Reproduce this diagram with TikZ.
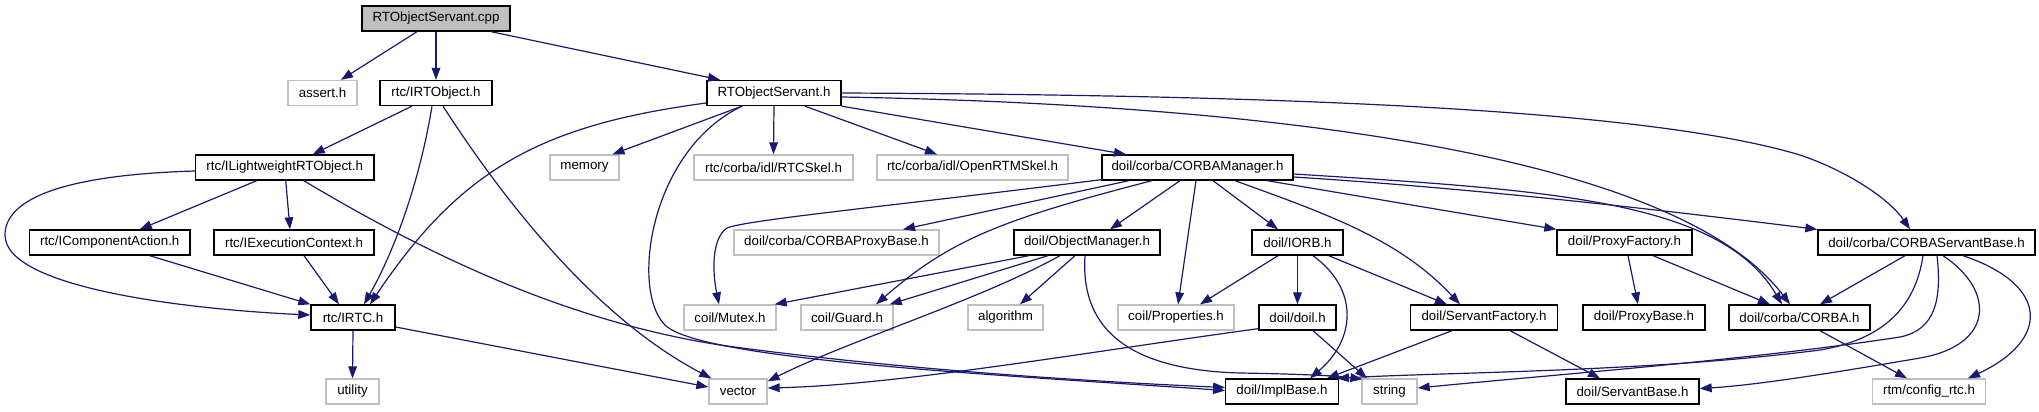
\documentclass[tikz,border=0pt]{standalone}
\usepackage{fontspec}
\setmainfont{Liberation Sans}
\usetikzlibrary{arrows.meta,calc}
\definecolor{edgec}{RGB}{25,25,112}
\definecolor{lgray}{RGB}{191,191,191}
\begin{document}
\begin{tikzpicture}[x=0.75pt,y=-0.75pt,
  nd/.style={rectangle, minimum height=18.75pt, inner sep=0pt, font=\fontsize{10pt}{12pt}\selectfont, line width=1pt},
  blk/.style={nd, draw=black},
  gry/.style={nd, draw=lgray},
  wd/.style={minimum width=#1*0.75pt},
  dep/.style={draw=edgec, line width=0.9pt, -{Triangle[length=9pt,width=6.5pt]}}]
\useasboundingbox (0,0) rectangle (2039,411);
% row 0
\node[blk, fill=lgray, wd=148] (cpp) at (436,18.5) {RTObjectServant.cpp};
% row 1
\node[gry, wd=69]  (assert) at (322.5,93) {assert.h};
\node[blk, wd=112] (irtobject) at (436,93) {rtc/IRTObject.h};
\node[blk, wd=134] (rtosh) at (774,93) {RTObjectServant.h};
% row 2
\node[blk, wd=178.5] (ilw) at (284.75,167.5) {rtc/ILightweightRTObject.h};
\node[gry, wd=69]  (memory) at (584.5,167.5) {memory};
\node[gry, wd=159] (rtcskel) at (773.5,167.5) {rtc/corba/idl/RTCSkel.h};
\node[gry, wd=191] (openrtm) at (972.5,167.5) {rtc/corba/idl/OpenRTMSkel.h};
\node[blk, wd=191] (cmgr) at (1197.5,167.5) {doil/corba/CORBAManager.h};
% row 3
\node[blk, wd=160.5] (icomp) at (109.75,242.5) {rtc/IComponentAction.h};
\node[blk, wd=160] (iexec) at (294,242.5) {rtc/IExecutionContext.h};
\node[gry, wd=205] (cproxyb) at (836.5,242.5) {doil/corba/CORBAProxyBase.h};
\node[blk, wd=146] (objmgr) at (1087,242.5) {doil/ObjectManager.h};
\node[blk, wd=91]  (iorb) at (1297.5,242.5) {doil/IORB.h};
\node[blk, wd=135] (pfact) at (1624.5,242.5) {doil/ProxyFactory.h};
\node[blk, wd=217] (csb) at (1926.5,242.5) {doil/corba/CORBAServantBase.h};
% row 4
\node[blk, wd=84]  (irtc) at (353,317.5) {rtc/IRTC.h};
\node[gry, wd=92]  (mutex) at (730,317.5) {coil/Mutex.h};
\node[gry, wd=92]  (guard) at (847,317.5) {coil/Guard.h};
\node[gry, wd=75]  (algorithm) at (1005.5,317.5) {algorithm};
\node[gry, wd=116] (props) at (1176,317.5) {coil/Properties.h};
\node[blk, wd=77]  (doil) at (1297.5,317.5) {doil/doil.h};
\node[blk, wd=147.5] (sfact) at (1484,317.5) {doil/ServantFactory.h};
\node[blk, wd=122] (pbase) at (1644,317.5) {doil/ProxyBase.h};
\node[blk, wd=141] (corba) at (1799.5,317.5) {doil/corba/CORBA.h};
% row 5
\node[gry, wd=53]  (utility) at (352.5,391.5) {utility};
\node[gry, wd=58]  (vector) at (738,391.5) {vector};
\node[blk, wd=112.5] (implbase) at (1282,391.5) {doil/ImplBase.h};
\node[gry, wd=55]  (string) at (1389.5,391.5) {string};
\node[blk, wd=133] (sbase) at (1632.5,391.5) {doil/ServantBase.h};
\node[gry, wd=113] (config) at (1929,391.5) {rtm/config\_rtc.h};

% edges from cpp
\draw[dep] ($(cpp.south)+(-19,0)$) -- ($(assert.north)+(18.5,0)$);
\draw[dep] (cpp.south) -- (irtobject.north);
\draw[dep] ($(cpp.south)+(55,0)$) -- ($(rtosh.north)+(-54,0)$);
% rtc/IRTObject.h
\draw[dep] ($(irtobject.south)+(-24,0)$) -- ($(ilw.north)+(28,0)$);
\draw[dep] ($(irtobject.south)+(-4,0)$) .. controls (420,180) and (395,250) .. ($(irtc.north)+(11,0)$);
\draw[dep] ($(irtobject.south)+(7,0)$) .. controls (510,210) and (600,320) .. ($(vector.north west)+(3,0)$);
% rtc/ILightweightRTObject.h
\draw[dep] ($(ilw.south)+(-28,0)$) -- ($(icomp.north)+(30,0)$);
\draw[dep] ($(ilw.south)+(1,0)$) -- ($(iexec.north)+(-4,0)$);
\draw[dep] ($(ilw.west)+(0,3.5)$) .. controls (60,175) and (5,200) .. (5,235) .. controls (5,290) and (200,310) .. ($(irtc.west)+(0,-2.5)$);
\draw[dep] ($(ilw.south)+(19,0)$) .. controls (420,250) and (560,320) .. (720,345) .. controls (900,370) and (1100,382) .. ($(implbase.west)+(0,-4)$);
% row 3 left
\draw[dep] ($(icomp.south)+(40,0)$) -- (irtc.north west);
\draw[dep] ($(iexec.south)+(10,0)$) -- ($(irtc.north)+(-14,0)$);
% rtc/IRTC.h
\draw[dep] (irtc.south) -- (utility.north);
\draw[dep] ($(irtc.east)+(0,9.5)$) -- ($(vector.west)+(0,-4.5)$);
% RTObjectServant.h
\draw[dep] ($(rtosh.west)+(0,10)$) .. controls (540,125) and (460,170) .. ($(irtc.north)+(17,0)$);
\draw[dep] ($(rtosh.south)+(-32,0)$) -- ($(memory.north)+(28,0)$);
\draw[dep] (rtosh.south) -- (rtcskel.north);
\draw[dep] ($(rtosh.south)+(31,0)$) -- ($(openrtm.north)+(-35.5,0)$);
\draw[dep] (rtosh.south east) -- ($(cmgr.north)+(-71.5,0)$);
\draw[dep] ($(rtosh.south)+(-32,0)$) .. controls (650,150) and (630,290) .. (665,325) .. controls (700,360) and (1000,375) .. ($(implbase.west)+(0,-1)$);
\draw[dep] ($(rtosh.east)+(0,4)$) .. controls (1300,105) and (1680,160) .. ($(corba.north)+(-9.5,0)$);
\draw[dep] (rtosh.east) .. controls (1300,95) and (1650,110) .. (1800,155) .. controls (1850,172) and (1890,200) .. ($(csb.north)+(-16.5,0)$);
% doil/corba/CORBAManager.h
\draw[dep] ($(cmgr.south west)+(0,-1)$) .. controls (900,205) and (745,220) .. (727,228) .. controls (712,238) and (712,270) .. ($(mutex.north)+(-11,0)$);
\draw[dep] ($(cmgr.south)+(-68.5,0)$) -- ($(cproxyb.north)+(66.5,0)$);
\draw[dep] ($(cmgr.south)+(-45.5,0)$) .. controls (1000,220) and (950,240) .. ($(guard.north)+(29,0)$);
\draw[dep] ($(cmgr.south)+(-17.5,0)$) -- ($(objmgr.north)+(23,0)$);
\draw[dep] ($(cmgr.south)+(-1.5,0)$) -- ($(props.north)+(2,0)$);
\draw[dep] ($(cmgr.south)+(15.5,0)$) -- ($(iorb.north)+(-19.5,0)$);
\draw[dep] ($(cmgr.south)+(37.5,0)$) .. controls (1330,215) and (1400,240) .. ($(sfact.north)+(-24,0)$);
\draw[dep] ($(cmgr.south)+(69.5,0)$) -- (pfact.north west);
\draw[dep] ($(cmgr.east)+(0,6.5)$) .. controls (1550,190) and (1720,200) .. ($(corba.north)+(-17.5,0)$);
\draw[dep] ($(cmgr.east)+(0,9.5)$) .. controls (1500,190) and (1700,215) .. (csb.north west);
% doil/ObjectManager.h
\draw[dep] ($(objmgr.south)+(-58,0)$) -- ($(mutex.north east)+(-2,0)$);
\draw[dep] ($(objmgr.south)+(-39,0)$) -- ($(guard.north east)+(-4,0)$);
\draw[dep] ($(objmgr.south)+(-27,0)$) .. controls (980,300) and (850,340) .. ($(vector.north east)+(0,3)$);
\draw[dep] ($(objmgr.south)+(-12,0)$) -- ($(algorithm.north)+(14.5,0)$);
\draw[dep] ($(objmgr.south)+(-2,0)$) .. controls (1080,330) and (1130,370) .. (1240,373) .. controls (1300,374) and (1340,376) .. ($(string.north west)+(1,1)$);
% doil/IORB.h
\draw[dep] ($(iorb.south)+(-19.5,0)$) -- ($(props.north)+(24,0)$);
\draw[dep] (iorb.south) -- (doil.north);
\draw[dep] ($(iorb.south)+(15.5,0)$) .. controls (1360,290) and (1355,340) .. ($(implbase.north)+(28,0)$);
\draw[dep] ($(iorb.south east)+(-15,0)$) -- ($(sfact.north)+(-37,0)$);
% doil/doil.h
\draw[dep] ($(doil.south west)+(0,-2)$) .. controls (1100,350) and (900,385) .. ($(vector.east)+(0,-3.5)$);
\draw[dep] ($(doil.south)+(15.5,0)$) -- ($(string.north)+(-22.5,0)$);
% doil/ServantFactory.h
\draw[dep] ($(sfact.south)+(-32,0)$) -- ($(implbase.north east)+(-12,0)$);
\draw[dep] ($(sfact.south)+(26,0)$) -- ($(sbase.north)+(-32.5,0)$);
% doil/ProxyFactory.h
\draw[dep] ($(pfact.south)+(3.5,0)$) -- ($(pbase.north)+(-6,0)$);
\draw[dep] ($(pfact.south)+(28.5,0)$) -- ($(corba.north)+(-29.5,0)$);
% doil/corba/CORBAServantBase.h
\draw[dep] ($(csb.south)+(-21.5,0)$) -- ($(corba.north)+(20.5,0)$);
\draw[dep] ($(csb.south)+(10.5,0)$) .. controls (1942,300) and (1935,330) .. (1900,337) .. controls (1750,360) and (1550,375) .. ($(string.east)+(0,-3.5)$);
\draw[dep] ($(csb.south)+(-3.5,0)$) .. controls (1915,310) and (1880,340) .. (1820,350) .. controls (1650,372) and (1450,372) .. ($(implbase.north east)+(-2,0)$);
\draw[dep] ($(csb.south)+(16.5,0)$) .. controls (1995,290) and (1995,345) .. (1920,358) .. controls (1850,370) and (1760,385) .. ($(sbase.east)+(0,-3)$);
\draw[dep] ($(csb.south)+(36.5,0)$) .. controls (2050,285) and (2050,340) .. ($(config.north)+(39,0)$);
% doil/corba/CORBA.h
\draw[dep] ($(corba.south)+(20.5,0)$) -- ($(config.north)+(-22,0)$);
\end{tikzpicture}
\end{document}
